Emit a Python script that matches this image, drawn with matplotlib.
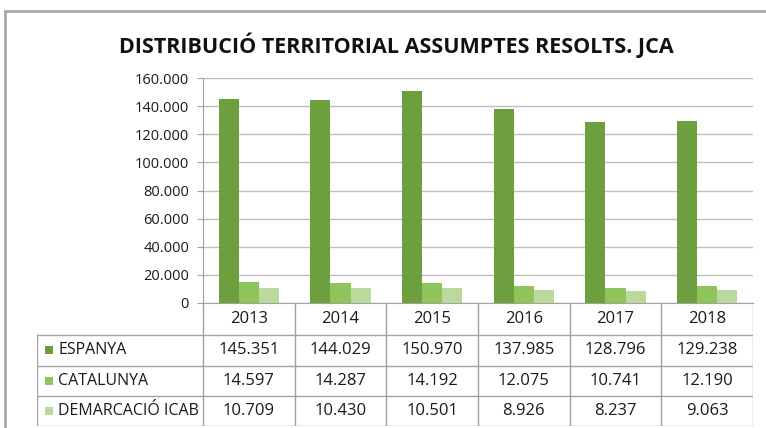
import matplotlib
matplotlib.use("Agg")
import matplotlib.pyplot as plt
from matplotlib.patches import Rectangle
from matplotlib.ticker import FuncFormatter

years = ["2013", "2014", "2015", "2016", "2017", "2018"]
series_names = ["ESPANYA", "CATALUNYA", "DEMARCACIÓ ICAB"]
espanya = [145351, 144029, 150970, 137985, 128796, 129238]
catalunya = [14597, 14287, 14192, 12075, 10741, 12190]
demarcacio = [10709, 10430, 10501, 8926, 8237, 9063]
colors = ["#6e9f3f", "#8fc45a", "#b9d99f"]

plt.rcParams["font.family"] = ["Open Sans", "DejaVu Sans"]

W, H = 766, 428
fig = plt.figure(figsize=(W / 100, H / 100), dpi=100)


def px_box(x0, y0, x1, y1):
    return [x0 / W, 1 - y1 / H, (x1 - x0) / W, (y1 - y0) / H]


# outer frame of the chart object
fig.patches.append(Rectangle((5 / W, -0.1), 1.2, 1 - 11 / H + 0.1,
                             transform=fig.transFigure, fill=False,
                             edgecolor="#a8a8a8", linewidth=2))

fig.text(396 / W, 1 - 45 / H, "DISTRIBUCIÓ TERRITORIAL ASSUMPTES RESOLTS. JCA",
         ha="center", va="center", fontsize=15.5, fontweight="bold", color="#111111")

# bar chart
ax = fig.add_axes(px_box(203, 78, 753, 303))
data = [espanya, catalunya, demarcacio]
bw = 0.22
x = list(range(len(years)))
for i, (vals, c) in enumerate(zip(data, colors)):
    ax.bar([xi + (i - 1) * bw for xi in x], vals, width=bw, color=c, zorder=3)

ax.set_xlim(-0.5, len(years) - 0.5)
ax.set_ylim(0, 160000)
ax.set_yticks(range(0, 160001, 20000))
ax.yaxis.set_major_formatter(FuncFormatter(lambda v, _: f"{int(v):,}".replace(",", ".")))
ax.set_xticks([])
ax.grid(axis="y", color="#bdbdbd", linewidth=1, zorder=0)
for s in ["top", "right"]:
    ax.spines[s].set_visible(False)
ax.spines["left"].set_color("#a0a0a0")
ax.spines["bottom"].set_color("#a59f9f")
ax.tick_params(axis="y", length=4, color="#a0a0a0", labelsize=10.5,
               labelcolor="#1a1a1a", pad=6)

# data table under the chart
lab_w = (203 - 37) / ((753 - 203) / len(years))
tax = fig.add_axes(px_box(37, 303, 753, 426))
tax.set_xlim(-0.5 - lab_w, len(years) - 0.5)
tax.set_ylim(123, 0)
tax.axis("off")
row_edges = [0, 32, 62.5, 93, 123]
grid_c = "#a59f9f"

# header row (years)
for j, yr in enumerate(years):
    tax.text(j, 16, yr, ha="center", va="center", fontsize=12, color="#1a1a1a")
for j in range(len(years) + 1):
    tax.plot([j - 0.5, j - 0.5], [0, 123], color=grid_c, lw=1)
tax.plot([-0.5 - lab_w, -0.5 - lab_w], [32, 123], color=grid_c, lw=1)
for yb in row_edges[1:]:
    tax.plot([-0.5 - lab_w, len(years) - 0.5], [yb, yb], color=grid_c, lw=1)

for r, (name, vals, c) in enumerate(zip(series_names, data, colors)):
    yc = (row_edges[r + 1] + row_edges[r + 2]) / 2
    tax.add_patch(Rectangle((-0.5 - lab_w + 0.09, yc - 4), 0.088, 8,
                            facecolor=c, edgecolor="none"))
    tax.text(-0.5 - lab_w + 0.23, yc, name, ha="left", va="center",
             fontsize=11.5, color="#1a1a1a")
    for j, v in enumerate(vals):
        tax.text(j, yc, f"{v:,}".replace(",", "."), ha="center", va="center",
                 fontsize=12, color="#1a1a1a")

fig.savefig("out.png", dpi=100)
